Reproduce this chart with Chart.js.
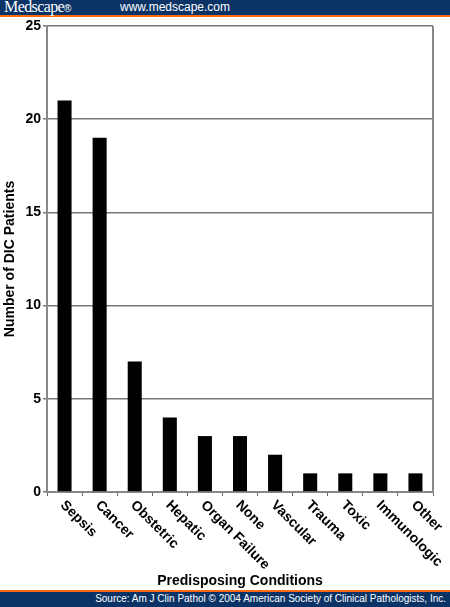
<!DOCTYPE html>
<html>
<head>
<meta charset="utf-8">
<script src="https://cdn.jsdelivr.net/npm/chart.js@4/dist/chart.umd.min.js"></script>
<style>
  html, body { margin: 0; padding: 0; background: #fff; }
  body { width: 450px; height: 607px; position: relative; overflow: hidden; font-family: 'Liberation Sans', Arial, sans-serif; }
  #chartWrap { position: absolute; left: 0; top: 0; width: 450px; height: 607px; }
  .bar-top { position: absolute; left: 0; top: 0; width: 450px; height: 15px; background: #0b3366; border-bottom: 2px solid #ff6a10; }
  .brand { position: absolute; left: 4px; top: -2px; color: #fff; font-family: 'Liberation Serif', 'DejaVu Serif', serif; font-size: 16px; letter-spacing: -0.6px; }
  .brand .reg { font-size: 10px; font-family: 'Liberation Sans', sans-serif; letter-spacing: 0; }
  .site { position: absolute; left: 120px; top: 0px; color: #fff; font-size: 12px; }
  .bar-bottom { position: absolute; left: 0; top: 590px; width: 450px; height: 15px; background: #0b3366; border-top: 2px solid #ff6a10; }
  .source { position: absolute; right: 4px; top: 1px; color: #fff; font-size: 10px; }
</style>
</head>
<body>
<div id="chartWrap"><canvas id="dicChart" width="450" height="607"></canvas></div>
<div class="bar-top"><span class="brand">Medscape<span class="reg">®</span></span><span class="site">www.medscape.com</span></div>
<div class="bar-bottom"><span class="source">Source: Am J Clin Pathol © 2004 American Society of Clinical Pathologists, Inc.</span></div>

<script>
// Data
const conditions = ['Sepsis', 'Cancer', 'Obstetric', 'Hepatic', 'Organ Failure', 'None', 'Vascular', 'Trauma', 'Toxic', 'Immunologic', 'Other'];
const patientCounts = [21, 19, 7, 4, 3, 3, 2, 1, 1, 1, 1];
const yTicks = [0, 5, 10, 15, 20, 25];

const LABEL_FONT = "bold 14px 'Liberation Sans', Arial, sans-serif";

// Draws slanted category labels (reading down to the right) and the right frame edge
const slantedLabels = {
    id: 'slantedLabels',
    afterDraw(chart) {
        const { ctx, chartArea } = chart;
        const xScale = chart.scales.x;
        ctx.save();
        // right border of the plot box
        ctx.strokeStyle = '#888';
        ctx.lineWidth = 2;
        ctx.beginPath();
        ctx.moveTo(chartArea.right, chartArea.top);
        ctx.lineTo(chartArea.right, chartArea.bottom);
        ctx.stroke();

        ctx.fillStyle = '#000';
        ctx.font = LABEL_FONT;
        ctx.textAlign = 'left';
        ctx.textBaseline = 'top';
        conditions.forEach((name, i) => {
            const x = xScale.getPixelForValue(i);
            ctx.save();
            ctx.translate(x + 3, chartArea.bottom + 6);
            ctx.rotate(Math.PI / 4);
            ctx.fillText(name, 0, 0);
            ctx.restore();
        });
        ctx.restore();
    }
};

const ctx = document.getElementById('dicChart').getContext('2d');
new Chart(ctx, {
    type: 'bar',
    data: {
        labels: conditions,
        datasets: [{
            data: patientCounts,
            backgroundColor: '#000',
            borderWidth: 0,
            barPercentage: 0.4,
            categoryPercentage: 1
        }]
    },
    options: {
        responsive: false,
        animation: false,
        events: [],
        layout: { padding: { left: 0, top: 26, right: 17, bottom: 17 } },
        plugins: {
            legend: { display: false },
            tooltip: { enabled: false }
        },
        scales: {
            x: {
                offset: true,
                grid: {
                    offset: true,
                    drawOnChartArea: false,
                    color: '#666',
                    tickLength: 4
                },
                border: { display: true, color: '#888', width: 2 },
                ticks: { display: false },
                title: {
                    display: true,
                    text: 'Predisposing Conditions',
                    color: '#000',
                    font: { family: "'Liberation Sans', Arial, sans-serif", size: 14, weight: 'bold' },
                    padding: 0
                },
                afterFit(scale) { scale.height = 98; }
            },
            y: {
                min: 0,
                max: 25,
                afterBuildTicks(scale) { scale.ticks = yTicks.map(v => ({ value: v })); },
                grid: { color: '#777', lineWidth: 1.5, tickLength: 4 },
                border: { display: true, color: '#888', width: 2 },
                ticks: {
                    color: '#000',
                    padding: 2,
                    font: { family: "'Liberation Sans', Arial, sans-serif", size: 14, weight: 'bold' }
                },
                title: {
                    display: true,
                    text: 'Number of DIC Patients',
                    color: '#000',
                    font: { family: "'Liberation Sans', Arial, sans-serif", size: 14, weight: 'bold' },
                    padding: { top: 2, bottom: 0 }
                },
                afterFit(scale) { scale.width = 47; }
            }
        }
    },
    plugins: [slantedLabels]
});
</script>
</body>
</html>
